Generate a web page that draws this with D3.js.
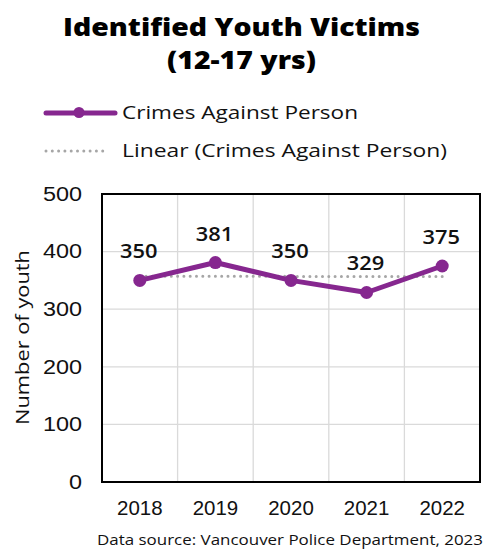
<!DOCTYPE html>
<html>
<head>
<meta charset="utf-8">
<script src="https://cdn.jsdelivr.net/npm/d3@7"></script>
<style>
  html, body { margin: 0; padding: 0; background: #fff; }
  svg { display: block; font-family: "Open Sans", sans-serif; }
</style>
</head>
<body>
<svg id="chart" width="487" height="552"></svg>
<script>
// Identified youth victims of crimes against person, by year
const years = ["2018", "2019", "2020", "2021", "2022"];
const victims = [350, 381, 350, 329, 375];
const yTicks = [0, 100, 200, 300, 400, 500];

const purple = "#86278f";
const trendGrey = "#a6a6a6";
const ink = "#111";
const svg = d3.select("#chart");

const margin = { top: 194, right: 7, bottom: 70, left: 102 };
const W = 487, H = 552;
const x = d3.scaleBand().domain(years).range([margin.left, W - margin.right]);
const y = d3.scaleLinear().domain([0, 500]).range([H - margin.bottom, margin.top]);
const cx = d => x(d) + x.bandwidth() / 2;

// widen a text run to a set width (the typeface is set wide)
const fit = (sel, w) => sel.attr("textLength", w).attr("lengthAdjust", "spacingAndGlyphs");
// widen each text in a selection by a factor of its natural width
const widen = (sel, k) => sel.each(function () {
  const w = this.getComputedTextLength();
  d3.select(this).attr("textLength", w * k).attr("lengthAdjust", "spacingAndGlyphs");
});

// Two-line title
const title = svg.append("text").attr("text-anchor", "middle")
  .style("font-weight", 800).style("font-size", "24.5px").attr("fill", "#000");
fit(title.append("tspan").attr("x", 241.5).attr("y", 35.5).text("Identified Youth Victims"), 357);
fit(title.append("tspan").attr("x", 241.5).attr("y", 69).text("(12-17 yrs)"), 149);

// Legend
const leg = svg.append("g");
leg.append("line").attr("x1", 46).attr("x2", 115).attr("y1", 113).attr("y2", 113)
  .attr("stroke", purple).attr("stroke-width", 5).attr("stroke-linecap", "round");
leg.append("circle").attr("cx", 79).attr("cy", 112.5).attr("r", 5.5).attr("fill", purple);
fit(leg.append("text").attr("x", 122).attr("y", 119)
  .style("font-size", "18.5px").attr("fill", ink).text("Crimes Against Person"), 236);
leg.append("line").attr("x1", 46).attr("x2", 109).attr("y1", 151).attr("y2", 151)
  .attr("stroke", trendGrey).attr("stroke-width", 3).attr("stroke-dasharray", "0,6.3")
  .attr("stroke-linecap", "round");
fit(leg.append("text").attr("x", 122).attr("y", 157)
  .style("font-size", "18.5px").attr("fill", ink).text("Linear (Crimes Against Person)"), 325);

// Gridlines
const grid = svg.append("g").attr("stroke", "#dadada").attr("stroke-width", 1.3);
yTicks.slice(1, -1).forEach(t => {
  grid.append("line").attr("x1", margin.left).attr("x2", W - margin.right)
    .attr("y1", y(t)).attr("y2", y(t));
});
years.slice(1).forEach(yr => {
  grid.append("line").attr("x1", x(yr)).attr("x2", x(yr))
    .attr("y1", margin.top).attr("y2", H - margin.bottom);
});

// Plot frame
svg.append("rect").attr("x", margin.left).attr("y", margin.top)
  .attr("width", W - margin.right - margin.left).attr("height", H - margin.bottom - margin.top)
  .attr("fill", "none").attr("stroke", "#000").attr("stroke-width", 2);

// Axes
const yAxis = svg.append("g").attr("transform", `translate(${margin.left},0)`)
  .call(d3.axisLeft(y).tickValues(yTicks).tickSize(0).tickPadding(20));
yAxis.select(".domain").remove();
widen(yAxis.selectAll("text").style("font-size", "19.5px").attr("fill", ink), 1.2);

const xAxis = svg.append("g").attr("transform", `translate(0,${H - margin.bottom})`)
  .call(d3.axisBottom(x).tickSize(0).tickPadding(19));
xAxis.select(".domain").remove();
widen(xAxis.selectAll("text").style("font-size", "19.5px").attr("fill", ink), 1.05);

fit(svg.append("text").attr("transform", `translate(29,337.5) rotate(-90)`)
  .attr("text-anchor", "middle").style("font-size", "19px").attr("fill", ink)
  .text("Number of youth"), 175);

// Linear trend (least squares fit)
const n = victims.length;
const xs = d3.range(n);
const mx = d3.mean(xs), my = d3.mean(victims);
const slope = d3.sum(xs, i => (i - mx) * (victims[i] - my)) / d3.sum(xs, i => (i - mx) ** 2);
const icpt = my - slope * mx;
svg.append("line")
  .attr("x1", cx(years[0])).attr("x2", cx(years[n - 1]))
  .attr("y1", y(icpt)).attr("y2", y(icpt + slope * (n - 1)))
  .attr("stroke", trendGrey).attr("stroke-width", 3).attr("stroke-dasharray", "0,6.3")
  .attr("stroke-linecap", "round");

// Series line and markers
const line = d3.line().x((d, i) => cx(years[i])).y(d => y(d));
svg.append("path").datum(victims).attr("d", line)
  .attr("fill", "none").attr("stroke", purple).attr("stroke-width", 5).attr("stroke-linejoin", "round");
svg.selectAll(".pt").data(victims).join("circle").attr("class", "pt")
  .attr("cx", (d, i) => cx(years[i])).attr("cy", d => y(d)).attr("r", 6.5).attr("fill", purple);

// Data labels
widen(svg.selectAll(".lbl").data(victims).join("text").attr("class", "lbl")
  .attr("x", (d, i) => cx(years[i]) - 1).attr("y", d => y(d) - 22)
  .attr("text-anchor", "middle").style("font-size", "19px").style("font-weight", 600)
  .attr("fill", ink)
  .text(d => d), 1.15);

// Source note
fit(svg.append("text").attr("x", 483).attr("y", 545).attr("text-anchor", "end")
  .style("font-size", "14.5px").attr("fill", ink)
  .text("Data source: Vancouver Police Department, 2023"), 386);
</script>
</body>
</html>
